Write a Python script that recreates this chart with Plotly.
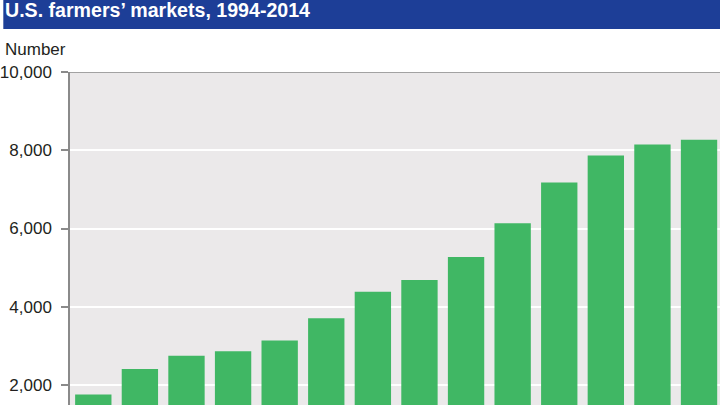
import plotly.graph_objects as go

years = ["1994", "1996", "1998", "2000", "2002", "2004", "2006", "2008",
         "2009", "2010", "2011", "2012", "2013", "2014"]
markets = [1755, 2410, 2746, 2863, 3137, 3706, 4385, 4685,
           5274, 6132, 7175, 7864, 8144, 8268]
y_ticks = [2000, 4000, 6000, 8000, 10000]

W, H = 720, 405
L, T = 67, 72
PH = H - T
PW = W - L

def py(pix):
    return 1 + (T - pix) / PH

def px(pix):
    return (pix - L) / PW

fig = go.Figure(go.Bar(
    x=years, y=markets,
    marker=dict(color="#40b764", line=dict(width=0)),
    hoverinfo="skip",
))

fig.update_layout(
    width=W, height=H, autosize=False,
    margin=dict(l=L, r=0, t=T, b=0),
    paper_bgcolor="white",
    plot_bgcolor="#ebe9ea",
    bargap=0.22,
    showlegend=False,
    font=dict(family="Liberation Sans, Arial, sans-serif", color="#231f20"),
    xaxis=dict(type="category", range=[-0.5, 13.45], showticklabels=False,
               ticks="", showgrid=False, zeroline=False, showline=False),
    yaxis=dict(range=[1489, 10000], tickvals=y_ticks, tickformat=",",
               ticks="outside", ticklen=7, tickcolor="#8a8a8a", tickwidth=1.5,
               tickfont=dict(size=17, color="#231f20"),
               ticklabelstandoff=6,
               showgrid=True, gridcolor="#ffffff", gridwidth=1.5,
               showline=True, linecolor="#8a8a8a", linewidth=1.5,
               zeroline=False),
    shapes=[
        dict(type="rect", xref="paper", yref="paper",
             x0=px(0), x1=px(W), y0=py(29), y1=py(0),
             fillcolor="#1d3e97", line=dict(width=0), layer="above"),
        dict(type="line", xref="paper", yref="y",
             x0=0, x1=1, y0=10000, y1=10000,
             line=dict(color="#8a8a8a", width=1.5), layer="above"),
    ],
    annotations=[
        dict(text="<b>U.S. farmers’ markets, 1994-2014</b>", xref="paper", yref="paper",
             x=px(0), y=py(10), xanchor="left", yanchor="middle", showarrow=False,
             font=dict(size=19.6, color="white")),
        dict(text="Number", xref="paper", yref="paper",
             x=px(0), y=py(50), xanchor="left", yanchor="middle", showarrow=False,
             font=dict(size=17, color="#231f20")),
    ],
)

fig.write_html("out.html", config={"displayModeBar": False},
               post_script="document.body.style.margin='0';document.body.style.overflow='hidden';")
